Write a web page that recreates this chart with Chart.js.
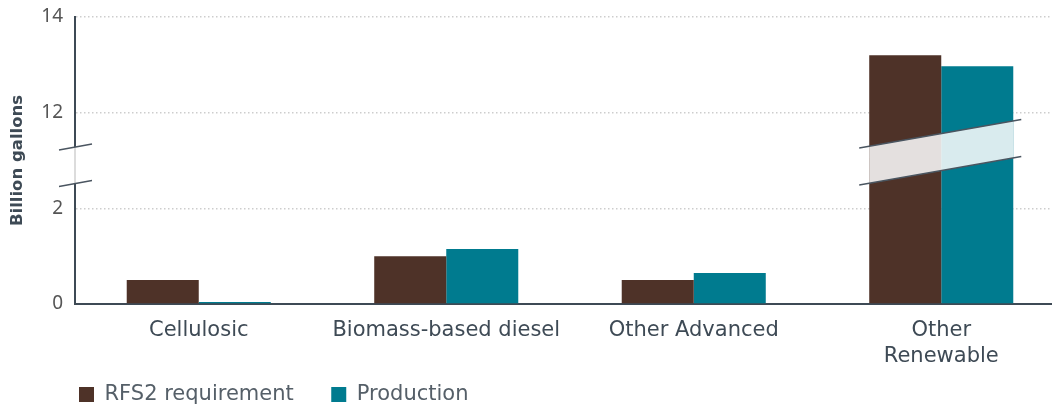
<!DOCTYPE html>
<html>
<head>
<meta charset="utf-8">
<script src="https://cdn.jsdelivr.net/npm/chart.js@4.4.1/dist/chart.umd.min.js"></script>
<style>
  html, body { margin: 0; padding: 0; background: #fff; overflow: hidden; }
</style>
</head>
<body>
<canvas id="rfs-chart" width="1070" height="409"></canvas>
<script>
var categories = ['Cellulosic', 'Biomass-based diesel', 'Other Advanced', ['Other', 'Renewable']];
var rfs2Requirement = [0.5, 1.0, 0.5, 13.2];
var production = [0.04, 1.15, 0.65, 12.97];
var yTickLabels = ['0', '2', '12', '14'];
var seriesNames = ['RFS2 requirement', 'Production'];
var seriesColors = ['#4e3228', '#007b8f'];

var axisColor = '#3e4a55';
var wideFont = '"DejaVu Sans", sans-serif';
var tickFont = '"Noto Sans", "DejaVu Sans", sans-serif';

// broken axis: 0-2 and 12-14 each get one step, 2-12 is squeezed into one
function toAxis(v) {
	if (v <= 2) return v / 2;
	if (v >= 12) return 2 + (v - 12) / 2;
	return 1 + (v - 2) / 10;
}

/* break marks on the y axis and across the tall bars */
var breakMarks = {
	id: 'breakMarks',
	afterDatasetsDraw: function (chart) {
		var ctx = chart.ctx;
		var y = chart.scales.y;
		var x = chart.scales.x;
		var area = chart.chartArea;
		ctx.save();

		var yTop = y.getPixelForValue(1.64);
		var yBot = y.getPixelForValue(1.26);
		ctx.strokeStyle = '#dcdcdc';
		ctx.lineWidth = 2;
		ctx.beginPath();
		ctx.moveTo(area.left, yTop);
		ctx.lineTo(area.left, yBot);
		ctx.stroke();
		ctx.strokeStyle = '#4a5560';
		ctx.lineWidth = 1.5;
		[yTop, yBot].forEach(function (py) {
			ctx.beginPath();
			ctx.moveTo(area.left - 16, py + 3);
			ctx.lineTo(area.left + 17, py - 3);
			ctx.stroke();
		});

		var i = categories.length - 1;
		var b0 = chart.getDatasetMeta(0).data[i];
		var b1 = chart.getDatasetMeta(1).data[i];
		var bl = b0.x - b0.width / 2;
		var br = b1.x + b1.width / 2;
		var x0 = bl - 10;
		var x1 = br + 8;
		var xc = x.getPixelForValue(i);
		var yc = y.getPixelForValue(1.587);
		var slope = -0.176, half = 18.5;
		function yl(px, off) { return yc + (px - xc) * slope + off; }

		ctx.fillStyle = 'rgba(255,255,255,0.85)';
		ctx.beginPath();
		ctx.moveTo(bl, yl(bl, -half));
		ctx.lineTo(br, yl(br, -half));
		ctx.lineTo(br, yl(br, half));
		ctx.lineTo(bl, yl(bl, half));
		ctx.closePath();
		ctx.fill();

		ctx.strokeStyle = '#4a5560';
		ctx.lineWidth = 1.5;
		[-half, half].forEach(function (off) {
			ctx.beginPath();
			ctx.moveTo(x0, yl(x0, off));
			ctx.lineTo(x1, yl(x1, off));
			ctx.stroke();
		});
		ctx.restore();
	}
};

/* move the legend so it starts under the axis */
var legendShift = {
	id: 'legendShift',
	afterLayout: function (chart) {
		chart.legend.left = 41.5;
		chart.legend.top = 346.5;
	}
};

var ctx = document.getElementById('rfs-chart');
var chart = new Chart(ctx, {
	type: 'bar',
	data: {
		labels: categories,
		datasets: [{
			label: seriesNames[0],
			backgroundColor: seriesColors[0],
			data: rfs2Requirement.map(toAxis)
		}, {
			label: seriesNames[1],
			backgroundColor: seriesColors[1],
			data: production.map(toAxis)
		}]
	},
	options: {
		responsive: false,
		animation: false,
		devicePixelRatio: 1,
		categoryPercentage: 0.582,
		barPercentage: 1,
		layout: { padding: { top: 17, right: 5, left: 0, bottom: 0 } },
		plugins: {
			tooltip: { enabled: false },
			legend: {
				position: 'bottom',
				align: 'start',
				maxHeight: 39,
				labels: {
					boxWidth: 15,
					boxHeight: 15,
					padding: 37.5,
					color: '#555f68',
					font: { family: wideFont, size: 21 }
				}
			}
		},
		scales: {
			x: {
				grid: { display: false, drawTicks: false },
				border: { color: axisColor, width: 2 },
				ticks: {
					color: axisColor,
					padding: 13,
					maxRotation: 0,
					autoSkip: false,
					font: { family: wideFont, size: 21, lineHeight: 1.25 }
				},
				afterFit: function (scale) { scale.height = 66; }
			},
			y: {
				min: 0,
				max: 3,
				grid: {
					drawTicks: false,
					color: function (c) { return c.index === 0 ? 'rgba(0,0,0,0)' : '#cdcdcd'; },
					lineWidth: 1.5
				},
				border: { color: axisColor, width: 2, dash: [1.5, 2.5] },
				ticks: {
					stepSize: 1,
					padding: 12,
					color: '#555555',
					font: { family: tickFont, size: 19 },
					callback: function (value) { return yTickLabels[value]; }
				},
				title: {
					display: true,
					text: 'Billion gallons',
					color: axisColor,
					padding: { top: 8, bottom: 0 },
					font: { family: wideFont, size: 16.5, weight: 'bold' }
				},
				afterFit: function (scale) {
					scale.width = 75;
					scale.paddingTop = 0;
					scale.paddingBottom = 0;
				}
			}
		}
	},
	plugins: [breakMarks, legendShift]
});
</script>
</body>
</html>
